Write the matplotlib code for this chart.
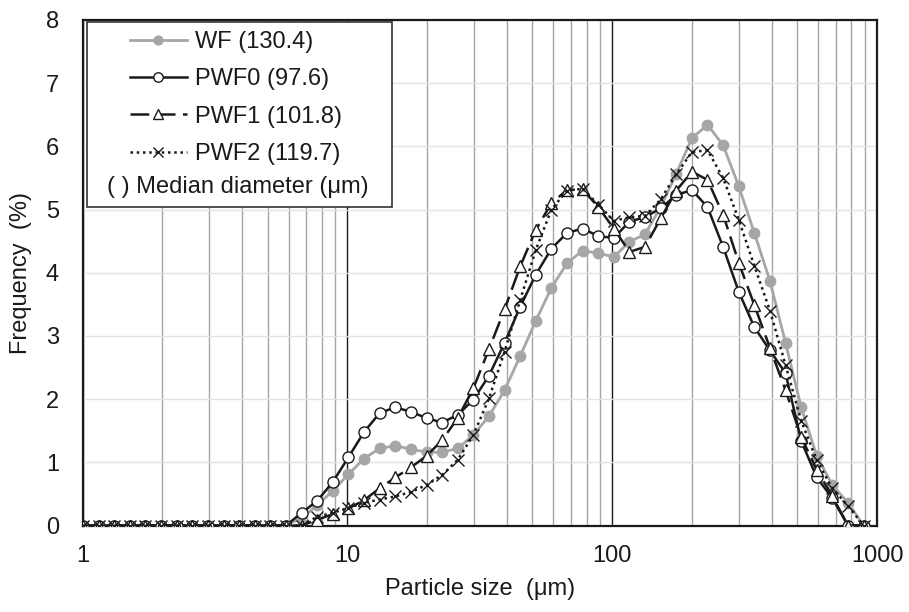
import matplotlib
matplotlib.use("Agg")
import matplotlib.pyplot as plt
from matplotlib.patches import Rectangle
from matplotlib.ticker import LogLocator, FixedLocator, NullFormatter

plt.rcParams["font.family"] = ["Liberation Sans", "DejaVu Sans"]

# particle size classes (um)
sizes = [1.005, 1.151, 1.318, 1.510, 1.729, 1.981, 2.269, 2.599, 2.976, 3.409,
         3.905, 4.472, 5.122, 5.867, 6.720, 7.697, 8.816, 10.097, 11.565, 13.246,
         15.172, 17.377, 19.904, 22.797, 26.111, 29.907, 34.255, 39.234, 44.938, 51.471,
         58.953, 67.523, 77.339, 88.583, 101.46, 116.21, 133.10, 152.45, 174.61, 200.00,
         229.07, 262.37, 300.52, 344.20, 394.24, 451.55, 517.20, 592.39, 678.50, 777.14,
         890.11]

zeros = [0.0] * 14

wf = zeros + [0.12, 0.32, 0.55, 0.81, 1.06, 1.22, 1.26, 1.21, 1.16, 1.16,
              1.22, 1.43, 1.73, 2.14, 2.68, 3.24, 3.76, 4.15, 4.35, 4.31,
              4.25, 4.49, 4.61, 5.04, 5.57, 6.13, 6.34, 6.02, 5.37, 4.63,
              3.87, 2.89, 1.87, 1.10, 0.64, 0.36, 0.0]

pwf0 = zeros + [0.20, 0.39, 0.69, 1.08, 1.48, 1.78, 1.87, 1.80, 1.70, 1.63,
                1.75, 1.99, 2.37, 2.89, 3.46, 3.97, 4.38, 4.63, 4.70, 4.58,
                4.55, 4.81, 4.88, 5.02, 5.23, 5.31, 5.04, 4.41, 3.70, 3.14,
                2.77, 2.41, 1.34, 0.76, 0.43, 0.0, 0.0]

pwf1 = zeros + [0.0, 0.09, 0.18, 0.27, 0.40, 0.59, 0.76, 0.92, 1.10, 1.35,
                1.70, 2.17, 2.79, 3.42, 4.10, 4.68, 5.10, 5.31, 5.32, 5.04,
                4.70, 4.33, 4.41, 4.86, 5.30, 5.60, 5.47, 4.92, 4.16, 3.49,
                2.81, 2.14, 1.40, 0.88, 0.46, 0.0, 0.0]

pwf2 = zeros + [0.0, 0.14, 0.20, 0.28, 0.36, 0.41, 0.46, 0.53, 0.64, 0.80,
                1.04, 1.43, 2.01, 2.75, 3.57, 4.36, 5.00, 5.30, 5.33, 5.08,
                4.82, 4.88, 4.90, 5.16, 5.56, 5.91, 5.94, 5.50, 4.84, 4.11,
                3.40, 2.54, 1.66, 1.03, 0.59, 0.31, 0.0]

labels = ["WF (130.4)", "PWF0 (97.6)", "PWF1 (101.8)", "PWF2 (119.7)"]

W, H = 909, 612
FS = 17
fig = plt.figure(figsize=(W / 100, H / 100), dpi=100)
ax = fig.add_axes([82.5 / W, 1 - 525.5 / H, (877 - 82.5) / W, (525.5 - 20) / H])

ink = "#1a1a1a"
grey = "#a6a6a6"

ax.plot(sizes, wf, color=grey, lw=2.0, marker="o", ms=7.5, mfc=grey, mec=grey,
        label=labels[0], zorder=3)
ax.plot(sizes, pwf0, color=ink, lw=1.8, marker="o", ms=8, mfc="white", mec=ink,
        mew=1.0, label=labels[1], zorder=3)
ax.plot(sizes, pwf1, color=ink, lw=1.8, dashes=(7.5, 3), marker="^", ms=8.5, mfc="white",
        mec=ink, mew=1.0, label=labels[2], zorder=3)
ax.plot(sizes, pwf2, color=ink, lw=1.8, ls=(0, (1, 1.5)), marker="x", ms=8, mec=ink,
        mew=1.0, label=labels[3], zorder=3)

ax.set_xscale("log")
ax.set_xlim(1, 1000)
ax.set_ylim(0, 8)
ax.xaxis.set_major_locator(FixedLocator([1, 10, 100, 1000]))
ax.xaxis.set_minor_locator(LogLocator(base=10, subs=range(2, 10)))
ax.xaxis.set_minor_formatter(NullFormatter())
ax.set_xticklabels(["1", "10", "100", "1000"])
ax.set_yticks(range(0, 9))

ax.xaxis.grid(True, which="minor", color=grey, lw=1.0, zorder=1)
ax.xaxis.grid(True, which="major", color=ink, lw=1.0, zorder=1)
ax.yaxis.grid(True, which="major", color="#e3e3e3", lw=1.0, zorder=0)
ax.set_axisbelow(True)

for s in ax.spines.values():
    s.set_color(ink)
    s.set_linewidth(1.6)

ax.tick_params(axis="both", which="both", length=0, labelsize=FS, colors=ink)
ax.tick_params(axis="x", pad=14)
ax.tick_params(axis="y", pad=17)

ax.set_xlabel("Particle size  (μm)", fontsize=FS, color=ink, labelpad=8)
ax.set_ylabel("Frequency  (%)", fontsize=FS, color=ink, labelpad=10)

# legend box
box = Rectangle((87.3 / W, 1 - 207.3 / H), 304.4 / W, 185.6 / H,
                transform=fig.transFigure, facecolor="white", edgecolor="#333333",
                lw=1.2, zorder=4)
ax.add_artist(box)
box.set_clip_on(False)

leg = ax.legend(loc="upper left", bbox_to_anchor=(130 / W, 1 - 31 / H),
                bbox_transform=fig.transFigure, frameon=False, fontsize=FS,
                handlelength=2.4, handletextpad=0.34, labelspacing=0.65,
                borderpad=0, borderaxespad=0, markerscale=0.85)
leg.set_zorder(5)
for t in leg.get_texts():
    t.set_color(ink)

fig.text(106.7 / W, 1 - 186.7 / H, "( ) Median diameter (μm)", fontsize=FS,
         color=ink, ha="left", va="center", zorder=6)

fig.savefig("out.png", dpi=100, facecolor="white")
